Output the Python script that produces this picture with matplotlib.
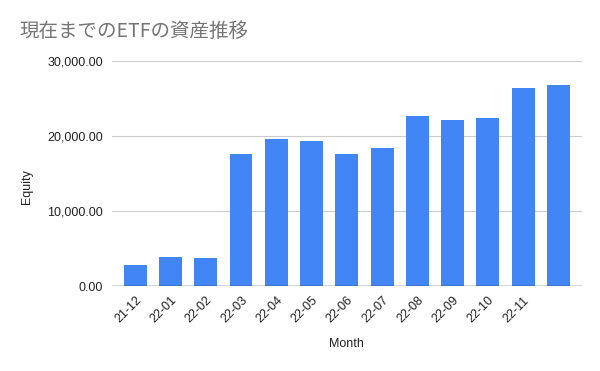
import matplotlib
matplotlib.use("Agg")
import matplotlib.pyplot as plt
from matplotlib.ticker import FuncFormatter

plt.rcParams['font.family'] = ['Liberation Sans', 'Noto Sans CJK JP', 'DejaVu Sans']

months = ["21-12", "22-01", "22-02", "22-03", "22-04", "22-05", "22-06",
          "22-07", "22-08", "22-09", "22-10", "22-11", ""]
equity = [2800, 3900, 3750, 17600, 19600, 19350, 17600,
          18400, 22650, 22150, 22400, 26400, 26800]
yticks = [0, 10000, 20000, 30000]

fig = plt.figure(figsize=(6, 3.71), dpi=100)
ax = fig.add_axes([0.186, 0.229, 0.7835, 0.6066])

x = list(range(len(months)))
ax.bar(x, equity, width=0.65, color="#4285F4", zorder=3)

ax.set_xlim(-0.67, 12.66)
ax.set_ylim(0, 30000)
ax.set_yticks(yticks)
ax.yaxis.set_major_formatter(FuncFormatter(lambda v, p: f"{v:,.2f}"))
ax.grid(axis='y', color="#cccccc", linewidth=0.8, zorder=0)
ax.axhline(0, color="#333333", linewidth=1.0, zorder=4)

ax.set_xticks(x)
ax.set_xticklabels(months, rotation=45, ha='right', rotation_mode='anchor')
ax.tick_params(axis='both', length=0, labelsize=9, colors="#222222")
ax.tick_params(axis='x', pad=6)
ax.tick_params(axis='y', pad=6)
for s in ax.spines.values():
    s.set_visible(False)

ax.set_xlabel("Month", fontsize=9, color="#222222", labelpad=9)
ax.set_ylabel("Equity", fontsize=9, color="#222222")
ax.yaxis.set_label_coords(-0.167, 0.44)

fig.text(0.033, 0.916, "現在までのETFの資産推移", fontsize=14, color="#757575",
         family=['Noto Sans CJK JP', 'DejaVu Sans'], va='center')

fig.savefig("out.png", dpi=100)
